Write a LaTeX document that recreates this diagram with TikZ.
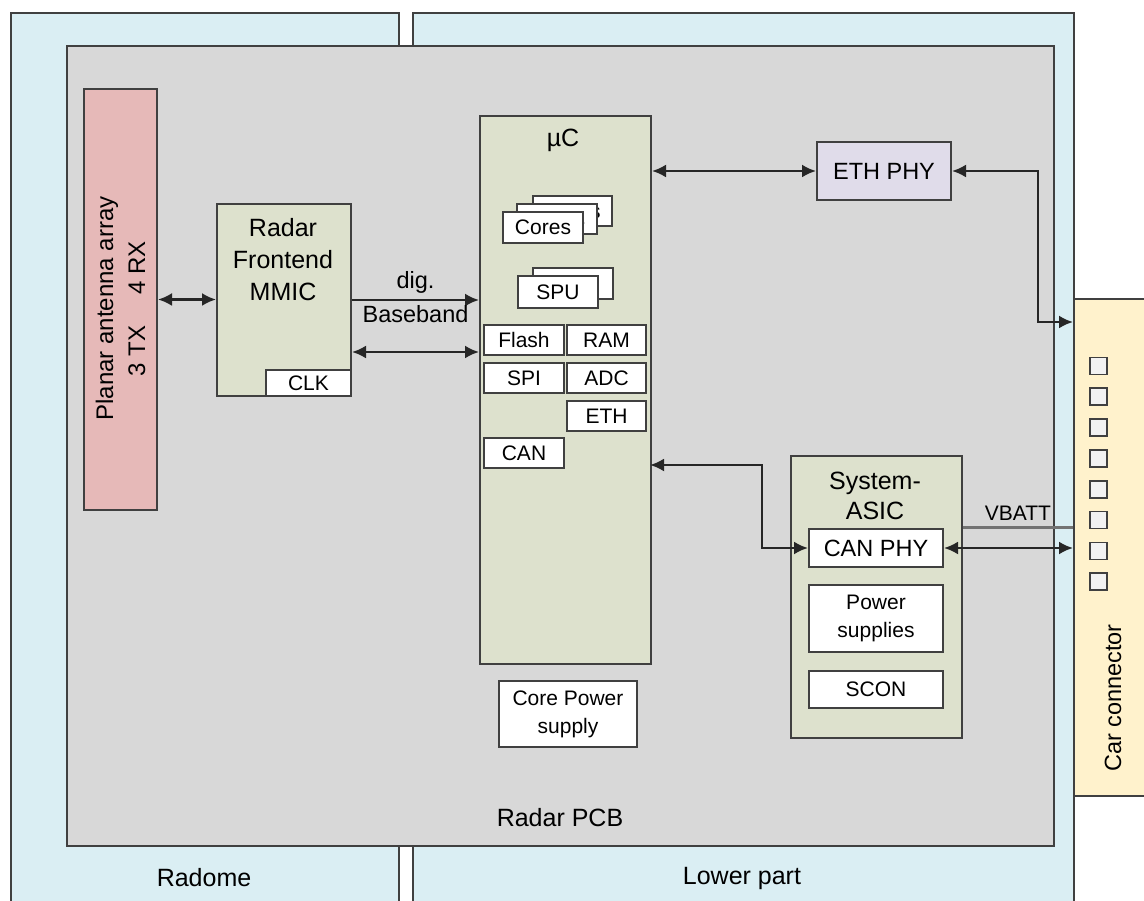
\documentclass[tikz,border=0pt]{standalone}
\usepackage{fontspec}
\setmainfont{Liberation Sans}
\usetikzlibrary{arrows.meta, positioning}
\definecolor{housing}{RGB}{218,238,243}
\definecolor{pcbgray}{RGB}{216,216,216}
\definecolor{antpink}{RGB}{230,185,184}
\definecolor{chipgreen}{RGB}{221,225,205}
\definecolor{phyviolet}{RGB}{224,220,234}
\definecolor{connyellow}{RGB}{255,242,204}
\definecolor{pingray}{RGB}{242,242,242}
\definecolor{edge}{RGB}{64,64,64}
\tikzset{>={Latex[length=14pt,width=13pt]},
  box/.style={draw=edge, line width=2pt, rectangle, anchor=north west, inner sep=0pt},
  partbox/.style={box, fill=housing},
  chip/.style={box, fill=chipgreen},
  block/.style={box, fill=white, font=\fontsize{21}{28}\selectfont, align=center},
  pin/.style={draw=edge, line width=1.6pt, fill=pingray, minimum size=17pt, inner sep=0pt},
  link/.style={line width=2.4pt, draw=black!85},
  bigtext/.style={font=\fontsize{25}{32}\selectfont, inner sep=0pt},
  midtext/.style={font=\fontsize{23.5}{30}\selectfont, inner sep=0pt},
  px/.style 2 args={minimum width=#1pt, minimum height=#2pt},
}

\begin{document}
\begin{tikzpicture}[x=1pt, y=-1pt]
    \useasboundingbox (0,0) rectangle (1144,901);
    \clip (0,0) rectangle (1144,901);
    % housing
    \node[partbox, px={388}{910}] (radome) at (10,12) {};
    \node[partbox, px={661}{910}] (lower) at (412,12) {};
    \node[box, fill=pcbgray, line width=2.4pt, px={987}{800}] (pcb) at (66,45) {};
    \node[bigtext] (radomelabel) at (204,878) {Radome};
    \node[bigtext] (lowerlabel) at (742,878) {Lower part};
    \node[bigtext] (pcblabel) at (560,818) {Radar PCB};

    % antenna and frontend
    \node[box, fill=antpink, px={73}{421}] (antenna) at (83,88) {};
    \node[midtext, rotate=90, align=center, font=\fontsize{24}{32}\selectfont] (antlabel)
        at ([yshift=-9pt]antenna.center) {Planar antenna array\\3 TX\hspace{31pt}4 RX};
    \node[chip, px={134}{192}] (mmic) at (216,203) {};
    \node[bigtext, align=center] (mmiclabel) at (283,260) {Radar\\Frontend\\MMIC};
    \node[block, px={85}{26}] (clk) at (265,369) {CLK};

    % microcontroller
    \node[chip, px={171}{548}] (uc) at (479,115) {};
    \node[bigtext] (uclabel) at (563,140) {µC};
    \node[block, px={79}{30}] (cores3) at (532,195) {Cores};
    \node[block, px={80}{30}] (cores2) at (516,203) {Cores};
    \node[block, px={80}{31}] (cores) at (502,211) {Cores};
    \node[block, px={80}{31}] (spu2) at (532,267) {SPU};
    \node[block, px={80}{32}] (spu) at (517,275) {SPU};
    \node[block, px={80}{30}] (flash) at (483,324) {Flash};
    \node[block, px={79}{30}] (ram) at (566,324) {RAM};
    \node[block, px={80}{30}] (spi) at (483,362) {SPI};
    \node[block, px={79}{30}] (adc) at (566,362) {ADC};
    \node[block, px={79}{30}] (eth) at (566,400) {ETH};
    \node[block, px={80}{30}] (can) at (483,437) {CAN};
    \node[block, px={138}{66}] (corepwr) at (498,680) {Core Power\\supply};

    % ethernet phy
    \node[box, fill=phyviolet, midtext, px={134}{58}] (ethphy) at (816,141) {ETH PHY};

    % system asic
    \node[chip, px={171}{282}] (asic) at (790,455) {};
    \node[bigtext, align=center, font=\fontsize{25}{30}\selectfont] (asiclabel) at (875,496) {System-\\ASIC};
    \node[block, midtext, px={134}{38}] (canphy) at (808,528) {CAN PHY};
    \node[block, px={134}{67}] (pwrsup) at (808,584) {Power\\supplies};
    \node[block, px={134}{37}] (scon) at (808,670) {SCON};

    % car connector
    \node[box, fill=connyellow, px={120}{497}] (conn) at (1073,298) {};
    \foreach \i in {0,...,7}
        \node[pin] (pin\i) at (1098.5,{366+30.8*\i}) {};
    \node[midtext, rotate=90] (connlabel) at (1113,698) {Car connector};

    % connections
    \coordinate (ethin) at (1073,322);
    \coordinate (canin) at (650,465);
    \coordinate (vbatt) at (1073,527);
    \draw[link, <->] (antenna.east) -- (antenna.east -| mmic.west);
    \draw[link, ->] (mmic.east) -- (mmic.east -| uc.west)
        node[midway, above=5pt, midtext] {dig.}
        node[midway, below=4pt, midtext] {Baseband};
    \draw[link, <->] ([yshift=-52pt]mmic.east) -- ([yshift=-52pt]mmic.east -| uc.west);
    \draw[link, <->] (uc.east |- ethphy.west) -- (ethphy.west);
    \draw[link, <->] (ethphy.east) -| ([xshift=-35pt]ethin) -- (ethin);
    \draw[link, <->] (canin) -| ([xshift=-46pt]canphy.west) -- (canphy.west);
    \draw[link, <->] (canphy.east) -- (canphy.east -| conn.west);
    \draw[line width=3pt, draw=black!55] (asic.east |- vbatt) -- (vbatt)
        node[pos=0.5, above=5pt, font=\fontsize{21}{26}\selectfont, inner sep=0pt] {VBATT};
\end{tikzpicture}
\end{document}
